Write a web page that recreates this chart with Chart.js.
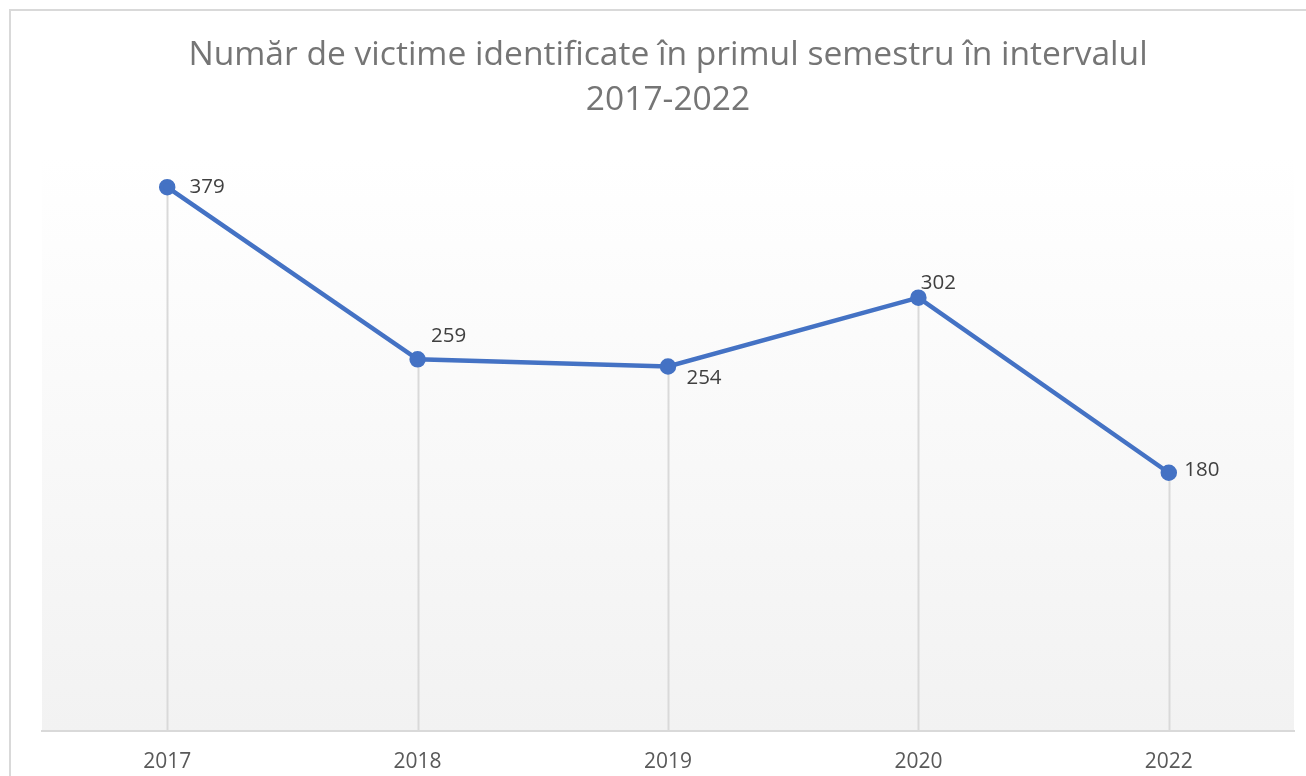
<!DOCTYPE html>
<html>
<head>
<meta charset="utf-8">
<script src="https://cdn.jsdelivr.net/npm/chart.js@4.4.1/dist/chart.umd.min.js"></script>
<style>
  html, body { margin: 0; padding: 0; background: #fff; }
  #wrap { width: 1306px; height: 776px; }
</style>
</head>
<body>
<div id="wrap"><canvas id="myChart" width="1306" height="776"></canvas></div>
<script>
// data
const years = ['2017', '2018', '2019', '2020', '2022'];
const victims = [379, 259, 254, 302, 180];
const titleLines = ['Număr de victime identificate în primul semestru în intervalul', '2017-2022'];

// outer frame + plot area gradient
const backdrop = {
  id: 'backdrop',
  beforeDraw(chart) {
    const c = chart.ctx, a = chart.chartArea;
    c.save();
    c.strokeStyle = '#d9d9d9';
    c.lineWidth = 2;
    c.strokeRect(10, 10, 1400, 900);
    let g = c.createLinearGradient(0, a.top, 0, a.bottom);
    g.addColorStop(0, '#ffffff');
    g.addColorStop(1, '#f2f2f2');
    c.fillStyle = g;
    c.fillRect(a.left, a.top, a.right - a.left, a.bottom - a.top);
    c.restore();
  }
};

// vertical drop lines from each point down to the axis
const dropLines = {
  id: 'dropLines',
  beforeDatasetsDraw(chart) {
    const c = chart.ctx, a = chart.chartArea;
    const pts = chart.getDatasetMeta(0).data;
    c.save();
    c.strokeStyle = '#d9d9d9';
    c.lineWidth = 2;
    pts.forEach(p => {
      c.beginPath();
      c.moveTo(Math.round(p.x) + 0.5, p.y);
      c.lineTo(Math.round(p.x) + 0.5, a.bottom);
      c.stroke();
    });
    c.restore();
  }
};

// value labels next to the points
const valueLabels = {
  id: 'valueLabels',
  afterDatasetsDraw(chart, args, opts) {
    const c = chart.ctx;
    const pts = chart.getDatasetMeta(0).data;
    const vals = chart.data.datasets[0].data;
    c.save();
    c.font = '20.5px "Open Sans"';
    c.fillStyle = '#404040';
    c.textAlign = 'center';
    c.textBaseline = 'middle';
    pts.forEach((p, i) => {
      const o = opts.offsets[i];
      c.fillText(String(vals[i]), p.x + o[0], p.y + o[1]);
    });
    c.restore();
  }
};

var ctx = document.getElementById('myChart');
var myChart = new Chart(ctx, {
  type: 'line',
  data: {
    labels: years,
    datasets: [{
      data: victims,
      borderColor: '#4472c4',
      backgroundColor: '#4472c4',
      borderWidth: 4.5,
      pointRadius: 6,
      pointHoverRadius: 6,
      tension: 0
    }]
  },
  options: {
    responsive: false,
    animation: false,
    layout: { padding: { left: 42, right: 12, top: 0, bottom: 0 } },
    scales: {
      x: {
        offset: true,
        grid: { display: false, drawTicks: false },
        border: { display: true, color: '#d9d9d9', width: 2 },
        ticks: { color: '#595959', font: { family: 'Open Sans', size: 21 }, padding: 18 },
        afterFit(scale) { scale.height = 45; }
      },
      y: {
        display: false,
        min: 0,
        max: 400
      }
    },
    plugins: {
      legend: { display: false },
      tooltip: { enabled: false },
      title: {
        display: true,
        text: titleLines,
        color: '#757575',
        font: { family: 'Open Sans', size: 33.6, weight: 'normal', lineHeight: 1.34 },
        padding: { top: 33, bottom: 34 }
      },
      valueLabels: {
        offsets: [[40, 0], [31, -23], [36, 12], [20, -15], [33, -3]]
      }
    }
  },
  plugins: [backdrop, dropLines, valueLabels]
});
</script>
</body>
</html>
